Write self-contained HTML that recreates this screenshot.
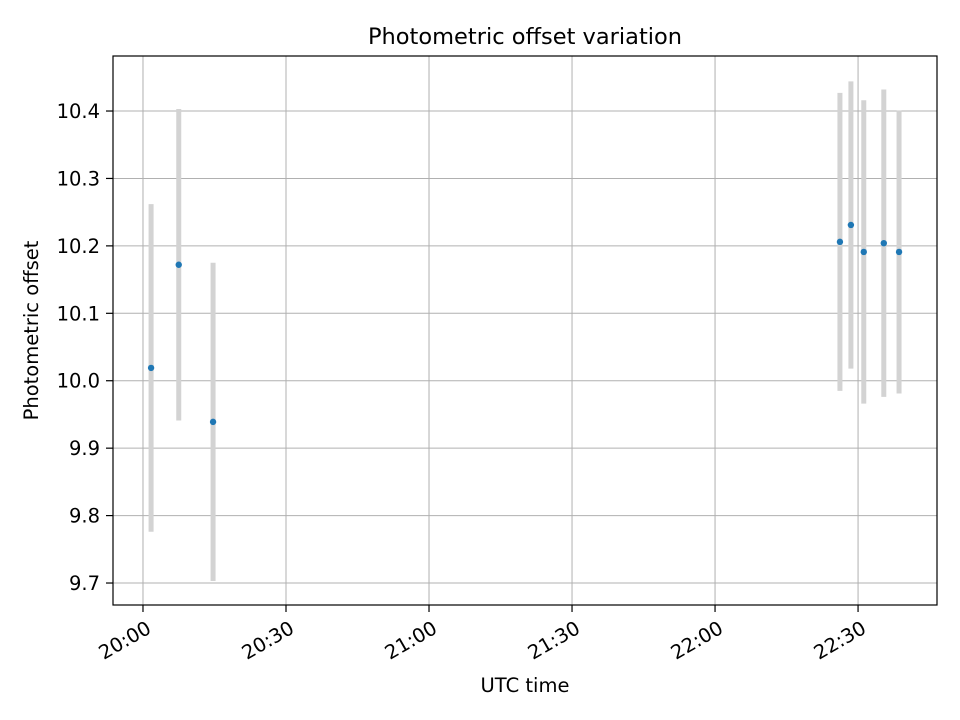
<!DOCTYPE html>
<html><head><meta charset="utf-8"><style>
body{margin:0;background:#fff;}
svg{display:block;font-family:"DejaVu Sans","Liberation Sans",sans-serif;}
</style></head><body>
<svg id="chart" width="960" height="720" viewBox="0 0 960 720"></svg>
<script>
// minutes after 20:00 UTC
const times = [1.7, 7.5, 14.7, 146.2, 148.5, 151.2, 155.4, 158.6];
const offsets = [10.019, 10.172, 9.939, 10.206, 10.231, 10.191, 10.204, 10.191];
const errors = [0.243, 0.231, 0.236, 0.221, 0.213, 0.225, 0.228, 0.21];
const yTicks = [9.7, 9.8, 9.9, 10.0, 10.1, 10.2, 10.3, 10.4];
const xTickMinutes = [0, 30, 60, 90, 120, 150];
const xTickLabels = ["20:00", "20:30", "21:00", "21:30", "22:00", "22:30"];

const L=113,R=937,T=56,B=605;
const xMin=-6.29,xMax=166.56,yMin=9.6674,yMax=10.4816;
const xs=v=>L+(v-xMin)/(xMax-xMin)*(R-L);
const ys=v=>B-(v-yMin)/(yMax-yMin)*(B-T);
const svg=document.getElementById('chart');
const NS='http://www.w3.org/2000/svg';
function mk(tag,attrs,parent){const e=document.createElementNS(NS,tag);for(const k in attrs)e.setAttribute(k,attrs[k]);(parent||svg).appendChild(e);return e;}

yTicks.forEach(v=>{
  const g=mk('line',{x1:L,x2:R,y1:ys(v),y2:ys(v),stroke:'#b0b0b0','stroke-width':1});
  
  
  const tk=mk('line',{x1:L-7,x2:L,y1:ys(v),y2:ys(v),stroke:'#000','stroke-width':1.2});
  
  
  const t=mk('text',{x:L-13,y:ys(v)+7,'text-anchor':'end','font-size':19.5});
  t.textContent=v.toFixed(1);
  
  
});
xTickMinutes.forEach((m,i)=>{
  const x=xs(m);
  const g=mk('line',{x1:x,x2:x,y1:T,y2:B,stroke:'#b0b0b0','stroke-width':1});
  
  
  const tk=mk('line',{x1:x,x2:x,y1:B,y2:B+7,stroke:'#000','stroke-width':1.2});
  
  
  const t=mk('text',{x:0,y:15,'text-anchor':'end','font-size':19.5,transform:`translate(${x+2} ${B+14}) rotate(-30)`});
  t.textContent=xTickLabels[i];
  
  
});

times.forEach((m,i)=>{
  const x=xs(m);
  const e=mk('line',{x1:x,x2:x,y1:ys(offsets[i]+errors[i]),y2:ys(offsets[i]-errors[i]),stroke:'#d3d3d3','stroke-width':5});
  
  
});
times.forEach((m,i)=>{
  const p=mk('circle',{cx:xs(m),cy:ys(offsets[i]),r:3.2,fill:'#1f77b4'});
  
  
});

const frame=mk('rect',{x:L,y:T,width:R-L,height:B-T,fill:'none',stroke:'#000','stroke-width':1.2});



const title=mk('text',{x:(L+R)/2,y:44,'text-anchor':'middle','font-size':22.5});
title.textContent='Photometric offset variation';


const xl=mk('text',{x:(L+R)/2,y:692,'text-anchor':'middle','font-size':19.5});
xl.textContent='UTC time';


const yl=mk('text',{x:(T+B)/2*-1,y:38,'text-anchor':'middle','font-size':19.5,transform:'rotate(-90)'});
yl.textContent='Photometric offset';


</script>
</body></html>
